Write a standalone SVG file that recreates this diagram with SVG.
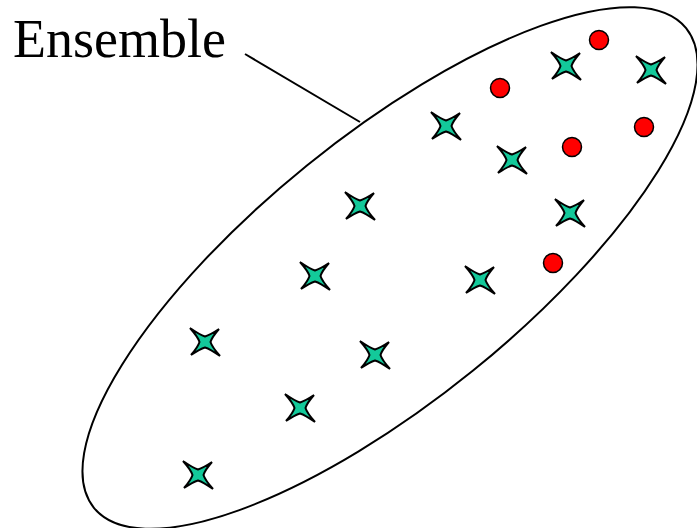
<svg xmlns="http://www.w3.org/2000/svg" width="697" height="528" viewBox="0 0 697 528">
<style>
.star{fill:#13c99a;stroke:#000;stroke-width:2;stroke-linejoin:miter}
.dot{fill:#ff0000;stroke:#000;stroke-width:1.5}
.line{fill:none;stroke:#000;stroke-width:2}
.label{font-family:"Liberation Serif","Times New Roman",serif;font-size:54px;fill:#000}
</style>
<defs>
<path id="st" d="M-15,-14 Q-5,-7 0,-5.5 Q5,-7 14,-13 Q7,-5 5.5,0 Q7,5 15,14 Q5,7 0,5.5 Q-5,7 -14,13 Q-7,5 -5.5,0 Q-7,-5 -15,-14 Z"/>
</defs>
<g id="ensemble">
<ellipse class="line" cx="390" cy="268" rx="381" ry="132" transform="rotate(-39 390 268)"/>
</g>
<g id="label">
<text class="label" x="13" y="57">Ensemble</text>
</g>
<g id="connectors">
<line class="line" x1="245" y1="54" x2="360" y2="122"/>
</g>
<g id="stars">
<use href="#st" class="star" x="566" y="66"/>
<use href="#st" class="star" x="651" y="70"/>
<use href="#st" class="star" x="446" y="126"/>
<use href="#st" class="star" x="512" y="160"/>
<use href="#st" class="star" x="570" y="213"/>
<use href="#st" class="star" x="360" y="206"/>
<use href="#st" class="star" x="315" y="276"/>
<use href="#st" class="star" x="480" y="280"/>
<use href="#st" class="star" x="205" y="342"/>
<use href="#st" class="star" x="375" y="355"/>
<use href="#st" class="star" x="300" y="408"/>
<use href="#st" class="star" x="198" y="475"/>
</g>
<g id="dots">
<circle class="dot" cx="599" cy="40" r="9.5"/>
<circle class="dot" cx="500" cy="88" r="9.5"/>
<circle class="dot" cx="572" cy="147" r="9.5"/>
<circle class="dot" cx="644" cy="127" r="9.5"/>
<circle class="dot" cx="553" cy="263" r="9.5"/>
</g>
</svg>
